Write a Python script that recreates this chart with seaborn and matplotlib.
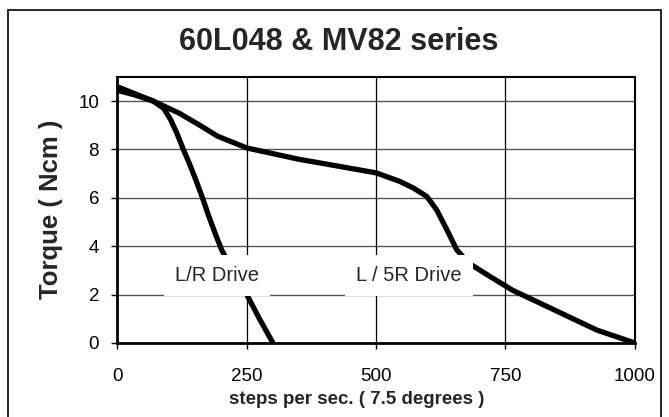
import pandas as pd
import seaborn as sns
import matplotlib.pyplot as plt
from matplotlib.patches import Rectangle

# curve readings (steps/s, Ncm)
lr_speed = [0, 35, 70, 90, 103, 115, 128, 140, 152, 165, 177, 190, 202, 225, 251, 275, 301]
lr_torque = [10.45, 10.25, 10.0, 9.7, 9.25, 8.7, 8.0, 7.4, 6.75, 6.0, 5.25, 4.5, 3.85, 2.9, 1.98, 1.0, 0.0]

l5r_speed = [0, 35, 70, 120, 160, 194, 251, 350, 430, 501, 546, 572, 598, 617, 637, 656, 680, 721, 763, 845, 927, 1000]
l5r_torque = [10.6, 10.3, 10.0, 9.5, 9.0, 8.55, 8.06, 7.6, 7.3, 7.03, 6.68, 6.41, 6.06, 5.51, 4.68, 3.85, 3.29, 2.74, 2.19, 1.36, 0.53, 0.0]

x_ticks = [0, 250, 500, 750, 1000]
y_ticks = [0, 2, 4, 6, 8, 10]

df = pd.concat([
    pd.DataFrame({'speed': lr_speed, 'torque': lr_torque, 'drive': 'L/R Drive'}),
    pd.DataFrame({'speed': l5r_speed, 'torque': l5r_torque, 'drive': 'L / 5R Drive'}),
])

sns.set_style("white")
plt.rcParams['font.family'] = ['Liberation Sans', 'DejaVu Sans']

fig = plt.figure(figsize=(6.69, 4.17), dpi=100)
ax = fig.add_axes([0.175, 0.1775, 0.774, 0.638])

sns.lineplot(data=df, x='speed', y='torque', hue='drive', palette=['black', 'black'],
             sort=False, estimator=None, linewidth=3.8, legend=False, ax=ax, zorder=3)

ax.set_xlim(0, 1000)
ax.set_ylim(0, 11)
ax.set_xticks(x_ticks)
ax.set_yticks(y_ticks)
ax.tick_params(axis='both', labelsize=13.5, length=4, width=1, direction='out',
               bottom=True, left=True, colors='black')
ax.tick_params(axis='x', pad=14)
ax.tick_params(axis='y', pad=9)
for y in y_ticks[1:]:
    ax.axhline(y, color='#555555', linewidth=1, zorder=1)
for x in x_ticks[1:-1]:
    ax.axvline(x, color='black', linewidth=0.9, zorder=1)
for s in ax.spines.values():
    s.set_linewidth(2)
    s.set_color('black')
ax.spines['top'].set_linewidth(1.5)
ax.spines['right'].set_linewidth(1.5)

ax.set_xlabel('steps per sec. ( 7.5 degrees )', fontsize=13.5, fontweight='bold')
ax.set_ylabel('Torque ( Ncm )', fontsize=18.5, fontweight='bold')
ax.xaxis.set_label_coords((357 - 117) / 518, -(400 - 343) / 266)
ax.yaxis.set_label_coords(-(117 - 51) / 518, (343 - 209) / 266)
ax.xaxis.label.set_va('center')
ax.yaxis.label.set_va('center')

ax.text(193, 2.78, 'L/R Drive', fontsize=14.5, ha='center', va='center', zorder=5,
        bbox=dict(facecolor='white', edgecolor='none', pad=8))
ax.text(564, 2.78, 'L / 5R Drive', fontsize=14.5, ha='center', va='center', zorder=5,
        bbox=dict(facecolor='white', edgecolor='none', pad=8))

fig.text(339 / 669, 1 - 42 / 417, '60L048 & MV82 series', fontsize=22, fontweight='bold',
         ha='center', va='center')

# outer frame
fig.patches.append(Rectangle((8 / 669, -0.05), 653 / 669, 1.05 - 10 / 417,
                             transform=fig.transFigure, fill=False,
                             edgecolor='black', linewidth=1.2))

plt.savefig('out.png', dpi=100)
